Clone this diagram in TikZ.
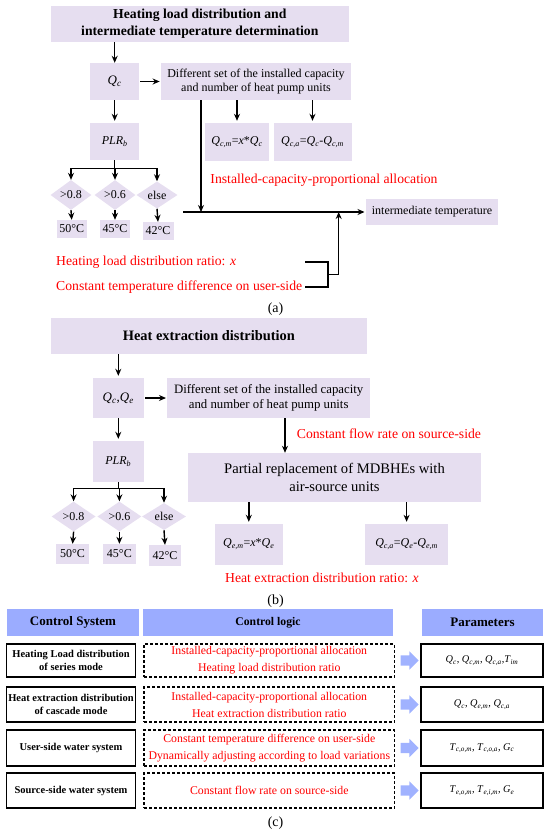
\documentclass[tikz,border=0pt]{standalone}
\usepackage{fontspec}
\setmainfont{Liberation Serif}
\usetikzlibrary{shapes.geometric,shapes.arrows,arrows.meta}
\definecolor{lav}{RGB}{230,222,240}
\definecolor{hblue}{RGB}{155,172,255}
\definecolor{ablue}{RGB}{160,178,255}
\newcommand\fs[2]{\fontsize{#1}{#2}\selectfont}
\newcommand\iv[2]{\textit{#1}\textsubscript{\textit{#2}}}
\begin{document}
\begin{tikzpicture}[x=1pt,y=-1pt,
  lbox/.style={fill=lav, inner sep=0pt, align=center, font=\fs{12}{14.5}},
  dia/.style={diamond, fill=lav, inner sep=0pt, font=\fs{12}{14}},
  arr/.style={-{Stealth[length=7pt,width=6pt]}, line width=1.4pt},
  ln/.style={line width=1.4pt},
  redt/.style={text=red, inner sep=0pt, font=\fs{13.7}{16}},
  captxt/.style={inner sep=0pt, font=\fs{14}{16}},
  hdr/.style={fill=hblue, inner sep=0pt, align=center, minimum height=27pt},
  lcell/.style={draw, line width=1.4pt, inner sep=0pt, align=center, minimum width=129.4pt, font=\bfseries\fs{10.5}{12.7}},
  dcell/.style={draw, dash pattern=on 3pt off 2pt, line width=1.4pt, inner sep=0pt, align=center, minimum width=250.5pt, text=red, font=\fs{11.8}{17}},
  rcell/.style={draw, line width=1.4pt, inner sep=0pt, align=center, minimum width=122pt, font=\fs{10.3}{12}},
  barrow/.style={single arrow, fill=ablue, inner sep=0pt, minimum height=18pt, single arrow head extend=4pt}
]
\useasboundingbox (0,0) rectangle (550,833);

% ---------------- (a) ----------------
\node[lbox, minimum width=298.5pt, minimum height=36pt, font={\bfseries\fs{13.7}{17}}] (t1) at (199.8,24) {Heating load distribution and\\intermediate temperature determination};
\node[lbox, minimum width=48.5pt, minimum height=37pt, font=\fs{13}{15}] (qc) at (114.7,81.5) {\iv{Q}{c}};
\node[lbox, minimum width=190.4pt, minimum height=37pt] (diff1) at (256,81.5) {Different set of the installed capacity\\and number of heat pump units};
\node[lbox, minimum width=48.5pt, minimum height=37pt] (plr1) at (114.7,141.5) {\iv{PLR}{b}};
\node[lbox, minimum width=64pt, minimum height=38pt] (qcm) at (237,142) {\iv{Q}{c,m}=\textit{x}*\iv{Q}{c}};
\node[lbox, minimum width=78pt, minimum height=38pt] (qca) at (312.5,142) {\iv{Q}{c,a}=\iv{Q}{c}-\iv{Q}{c,m}};
\node[dia, minimum width=41pt, minimum height=24pt] (da1) at (71,195) {>0.8};
\node[dia, minimum width=41pt, minimum height=24pt] (da2) at (115,195) {>0.6};
\node[dia, minimum width=41pt, minimum height=24pt] (da3) at (157,195) {else};
\node[lbox, minimum width=30pt, minimum height=18pt] (ca1) at (71.7,229) {50°C};
\node[lbox, minimum width=30pt, minimum height=18pt] (ca2) at (115,229) {45°C};
\node[lbox, minimum width=31pt, minimum height=18pt] (ca3) at (158,231) {42°C};
\node[redt] (ica) at (324,180) {Installed-capacity-proportional allocation};
\node[lbox, minimum width=132.6pt, minimum height=26pt] (inter) at (432,212) {intermediate temperature};
\node[redt, anchor=west] (hlr) at (56,262) {Heating load distribution ratio: \textit{x}};
\node[redt, anchor=west] (ctd) at (56,287) {Constant temperature difference on user-side};
\node[captxt] (capa) at (275.6,309) {(a)};

\draw[arr] (qc.north |- t1.south) -- (qc.north);
\draw[arr] ([xshift=1pt]qc.east) -- ([xshift=-1pt]diff1.west);
\draw[arr] (qc.south) -- ([yshift=2pt]plr1.north);
\draw[arr] (diff1.south -| qcm) -- ([yshift=2pt]qcm.north);
\draw[arr] (diff1.south -| qca) -- ([yshift=2pt]qca.north);
\draw[ln] (plr1.south) -- ++(0,8) coordinate (ba);
\draw[ln] (ba -| da1.north) -- (ba -| da3.north);
\draw[arr] (ba -| da1.north) -- (da1.north);
\draw[arr] (ba -| da2.north) -- (da2.north);
\draw[arr] (ba -| da3.north) -- (da3.north);
\draw[arr] (da1.south) -- (ca1.north);
\draw[arr] (da2.south) -- (ca2.north);
\draw[arr] (da3.south) -- (ca3.north);
\coordinate (hsa) at (183,212);
\coordinate (dla) at (201,212);
\draw[arr] (diff1.south -| dla) -- (dla);
\draw[arr] (hsa) -- ([xshift=-1pt]inter.west);
\coordinate (b1) at (305,262);
\coordinate (b2) at (305,287);
\coordinate (bm) at (328,274.5);
\coordinate (up) at (338.7,212);
\draw[ln] (b1) -| (bm |- b2) -- (b2);
\draw[arr] (bm) -| (up);

% ---------------- (b) ----------------
\node[lbox, minimum width=316.5pt, minimum height=36pt, font={\bfseries\fs{14.4}{17}}] (t2) at (208.8,336) {Heat extraction distribution};
\node[lbox, minimum width=51.5pt, minimum height=40pt, font=\fs{13}{15}] (qce) at (118.3,398) {\iv{Q}{c},\iv{Q}{e}};
\node[lbox, minimum width=203pt, minimum height=40pt, font=\fs{12.8}{15.5}] (diff2) at (268.7,398) {Different set of the installed capacity\\and number of heat pump units};
\node[lbox, minimum width=51.5pt, minimum height=41pt] (plr2) at (118.3,461.5) {\iv{PLR}{b}};
\node[redt, anchor=west] (cfr) at (296.7,434) {Constant flow rate on source-side};
\node[lbox, minimum width=292.5pt, minimum height=49pt, font=\fs{14.6}{17.5}] (part) at (334.5,477.5) {Partial replacement of MDBHEs with\\air-source units};
\node[dia, minimum width=44pt, minimum height=22pt] (db1) at (73.6,516.5) {>0.8};
\node[dia, minimum width=44pt, minimum height=22pt] (db2) at (119.4,516.5) {>0.6};
\node[dia, minimum width=44pt, minimum height=22pt] (db3) at (164,516.5) {else};
\node[lbox, minimum width=33.6pt, minimum height=20pt] (cb1) at (72.6,554) {50°C};
\node[lbox, minimum width=32.6pt, minimum height=20pt] (cb2) at (119.4,554) {45°C};
\node[lbox, minimum width=31.6pt, minimum height=21pt] (cb3) at (165,555.5) {42°C};
\node[lbox, minimum width=68.4pt, minimum height=41pt] (qem) at (248.8,544.5) {\iv{Q}{e,m}=\textit{x}*\iv{Q}{e}};
\node[lbox, minimum width=83pt, minimum height=41pt] (qca2) at (406.6,544.5) {\iv{Q}{c,a}=\iv{Q}{e}-\iv{Q}{e,m}};
\node[redt] (hed) at (322,578) {Heat extraction distribution ratio: \textit{x}};
\node[captxt] (capb) at (275.6,601) {(b)};

\draw[arr] (qce.north |- t2.south) -- ([yshift=2pt]qce.north);
\draw[arr] ([xshift=1pt]qce.east) -- ([xshift=-1pt]diff2.west);
\draw[arr] (qce.south) -- ([yshift=2pt]plr2.north);
\coordinate (dpx) at (285,0);
\draw[arr] (diff2.south -| dpx) -- (part.north -| dpx);
\draw[ln] (plr2.south) -- ++(0,6) coordinate (bb);
\draw[ln] (bb -| db1.north) -- (bb -| db3.north);
\draw[arr] (bb -| db1.north) -- (db1.north);
\draw[arr] (bb -| db2.north) -- (db2.north);
\draw[arr] (bb -| db3.north) -- (db3.north);
\draw[arr] (db1.south) -- (cb1.north);
\draw[arr] (db2.south) -- (cb2.north);
\draw[arr] (db3.south) -- (cb3.north);
\draw[arr] (part.south -| qem) -- ([yshift=2pt]qem.north);
\draw[arr] (part.south -| qca2) -- ([yshift=2pt]qca2.north);

% ---------------- (c) ----------------
\node[hdr, minimum width=131.5pt, font={\bfseries\fs{13}{15}}] (hcs) at (73,622.5) {Control System};
\node[hdr, minimum width=250pt, font={\bfseries\fs{11.7}{14}}] (hcl) at (268,622.5) {Control logic};
\node[hdr, minimum width=121pt, font={\bfseries\fs{13}{15}}] (hpa) at (482.5,622.5) {Parameters};

\node[lcell, minimum height=33pt] (l1) at (71,660.5) {Heating Load distribution\\of series mode};
\node[dcell, minimum height=33pt] (m1) at (269.3,660.5) {Installed-capacity-proportional allocation\\Heating load distribution ratio};
\node[rcell, minimum height=33pt] (p1) at (482,660.5) {\iv{Q}{c}, \iv{Q}{c,m}, \iv{Q}{c,a},\iv{T}{im}};
\node[barrow] (a1) at (407,660.5) {\rule{0pt}{10pt}};

\node[lcell, minimum height=35pt] (l2) at (71,704.5) {Heat extraction distribution\\of cascade mode};
\node[dcell, minimum height=35pt] (m2) at (269.3,704.5) {Installed-capacity-proportional allocation\\Heat extraction distribution ratio};
\node[rcell, minimum height=35pt] (p2) at (482,704.5) {\iv{Q}{c}, \iv{Q}{e,m}, \iv{Q}{c,a}};
\node[barrow] (a2) at (407,704.5) {\rule{0pt}{10pt}};

\node[lcell, minimum height=36pt] (l3) at (71,748) {User-side water system};
\node[dcell, minimum height=36pt] (m3) at (269.3,748) {Constant temperature difference on user-side\\Dynamically adjusting according to load variations};
\node[rcell, minimum height=36pt] (p3) at (482,748) {\iv{T}{c,o,m}, \iv{T}{c,o,a}, \iv{G}{c}};
\node[barrow] (a3) at (407,748) {\rule{0pt}{10pt}};

\node[lcell, minimum height=35pt] (l4) at (71,790.5) {Source-side water system};
\node[dcell, minimum height=35pt] (m4) at (269.3,790.5) {Constant flow rate on source-side};
\node[rcell, minimum height=35pt] (p4) at (482,790.5) {\iv{T}{e,o,m}, \iv{T}{e,i,m}, \iv{G}{e}};
\node[barrow] (a4) at (407,790.5) {\rule{0pt}{10pt}};

\node[captxt] (capc) at (275.6,823) {(c)};
\end{tikzpicture}
\end{document}
